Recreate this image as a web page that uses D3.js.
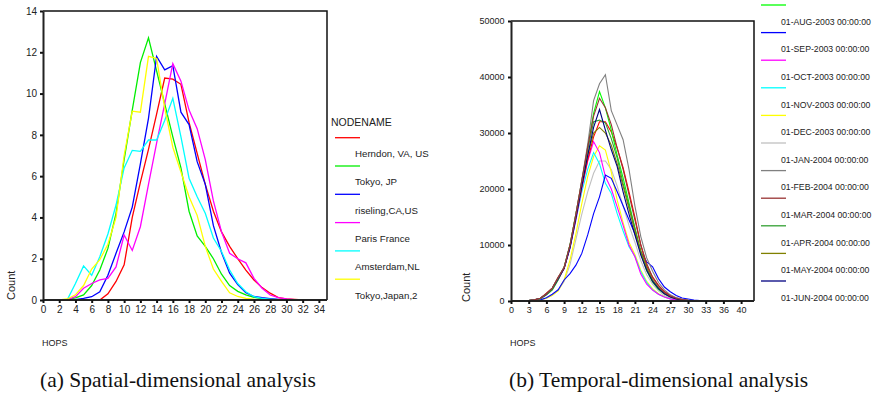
<!DOCTYPE html>
<html><head><meta charset="utf-8">
<script src="https://cdn.jsdelivr.net/npm/d3@7"></script>
<style>
html,body{margin:0;padding:0;background:#fff;}
svg{display:block;}
</style></head>
<body>
<svg id="c" width="876" height="395"></svg>
<script>
// ---------- Panel (a): spatial ----------
const leftHops = [0,1,2,3,4,5,6,7,8,9,10,11,12,13,14,15,16,17,18,19,20,21,22,23,24,25,26,27,28,29,30,31,32,33,34];
const leftTicksX = [0,2,4,6,8,10,12,14,16,18,20,22,24,26,28,30,32,34];
const leftTicksY = [0,2,4,6,8,10,12,14];
const leftNames = ["Herndon, VA, US","Tokyo, JP","riseling,CA,US","Paris France","Amsterdam,NL","Tokyo,Japan,2"];
const leftColors = ["#ff0000","#00ee00","#0000ff","#ff00ff","#00ffff","#ffff00"];
const herndon = [0,0,0,0,0,0,0,0,0.3,0.9,1.7,4.0,5.7,7.3,9.0,10.75,10.7,10.45,8.6,7.1,5.6,4.3,3.3,2.6,2.0,1.45,0.97,0.6,0.33,0.12,0.05,0.03,0.01,0,0];
const tokyoJP = [0,0,0,0.02,0.1,0.25,0.7,1.45,2.5,4.2,6.8,9.2,11.5,12.7,11.1,9.5,7.9,6.4,4.3,3.1,2.6,2.0,1.25,0.7,0.42,0.25,0.13,0.07,0.04,0.02,0,0,0,0,0];
const riseling = [0,0,0,0,0.02,0.08,0.16,0.4,1.2,2.26,3.3,4.5,6.6,8.8,11.8,11.15,11.35,9.1,8.5,6.7,5.6,3.6,2.3,1.3,0.75,0.35,0.17,0.11,0.06,0.03,0.01,0,0,0,0];
const paris = [0,0,0,0.02,0.16,0.57,0.8,0.97,1.05,1.6,3.15,2.4,3.55,5.6,7.6,9.5,11.45,10.6,9.2,8.3,6.8,4.8,3.3,2.26,2.0,1.8,1.05,0.57,0.24,0.11,0.05,0.02,0,0,0];
const amsterdam = [0,0,0,0.02,0.8,1.65,1.2,2.1,3.2,4.6,6.4,7.25,7.2,7.75,7.75,8.7,9.77,7.9,5.9,5.0,4.2,3.0,2.35,1.45,0.8,0.4,0.16,0.08,0.04,0.02,0,0,0,0,0];
const tokyoJapan2 = [0,0,0,0.05,0.25,0.7,1.5,1.95,2.7,4.0,7.0,9.15,9.1,11.8,11.7,9.3,7.4,6.2,5.0,4.1,2.6,1.5,0.9,0.35,0.17,0.08,0.04,0.02,0,0,0,0,0,0,0];
const leftSeries = [herndon, tokyoJP, riseling, paris, amsterdam, tokyoJapan2];

// ---------- Panel (b): temporal ----------
const rightHops = [0,1,2,3,4,5,6,7,8,9,10,11,12,13,14,15,16,17,18,19,20,21,22,23,24,25,26,27,28,29,30,31,32,33,34,35,36,37,38,40];
const rightTicksX = [0,3,6,9,12,15,18,21,24,27,30,33,36,40];
const rightTicksY = [0,10000,20000,30000,40000,50000];
const rightNames = ["01-JUL-2003 00:00:00","01-AUG-2003 00:00:00","01-SEP-2003 00:00:00","01-OCT-2003 00:00:00","01-NOV-2003 00:00:00","01-DEC-2003 00:00:00","01-JAN-2004 00:00:00","01-FEB-2004 00:00:00","01-MAR-2004 00:00:00","01-APR-2004 00:00:00","01-MAY-2004 00:00:00","01-JUN-2004 00:00:00"];
const rightColors = ["#ff0000","#00ff00","#0000ff","#ff00ff","#00ffff","#ffff00","#c0c0c0","#808080","#993333","#33a033","#808000","#000080"];
const jul03 = [0,0,50,100,200,500,1400,2300,4300,5800,9700,15000,20400,25200,29300,32000,32000,30200,27300,23800,19500,15000,10000,6300,4300,2800,1700,1000,550,280,130,60,20,0,0,0,0,0,0,0];
const aug03 = [0,0,30,80,150,400,1100,2000,3800,6000,10000,15500,21000,27500,33500,37400,34500,30500,26000,22000,17500,13000,8500,5400,3400,2100,1300,750,420,220,100,40,10,0,0,0,0,0,0,0];
const sep03 = [0,0,0,30,80,200,600,1200,2000,3750,4900,6400,8500,11800,15600,18600,22500,21900,19500,17000,14500,12000,8800,7000,6100,4000,2500,1650,1000,550,350,150,60,0,0,0,0,0,0,0];
const oct03 = [0,0,20,60,150,400,1100,2000,3800,5800,9500,14500,20000,25000,28450,26500,22200,20000,16800,13500,10000,7900,4800,3000,1950,1200,700,380,200,100,40,15,0,0,0,0,0,0,0,0];
const nov03 = [0,0,20,60,150,450,1200,2200,3900,5900,9500,14500,19500,23500,26500,24500,21000,19200,15600,12500,9700,8000,5200,3300,2000,1200,700,380,200,100,40,15,0,0,0,0,0,0,0,0];
const dec03 = [0,0,0,30,80,200,500,1000,1800,3750,7300,12000,17400,22200,25800,27700,26950,23000,18000,14000,10500,8300,5500,3500,2200,1300,750,400,200,100,40,15,0,0,0,0,0,0,0,0];
const jan04 = [0,0,0,30,80,200,500,1000,1900,3500,6500,11000,15500,19500,22800,25000,25000,23500,20500,17000,13500,10500,7200,4700,3000,1800,1000,550,280,130,60,20,0,0,0,0,0,0,0,0];
const feb04 = [0,0,30,80,200,500,1300,2300,4200,6000,10000,15500,21500,28000,35800,38800,40400,34000,31400,28800,23500,17000,11500,7700,5300,3300,2000,1100,600,300,150,60,20,0,0,0,0,0,0,0];
const mar04 = [0,0,30,80,200,500,1300,2300,4200,6000,10000,15500,21500,27500,33000,36200,34500,31500,27300,23500,19000,14500,10000,6700,4200,2700,1600,900,480,240,110,50,20,0,0,0,0,0,0,0];
const apr04 = [0,0,30,80,200,500,1300,2300,4200,6000,10000,15500,21500,27000,32000,32300,31800,29000,25500,21000,17000,13000,9000,6000,3800,2400,1400,800,430,210,100,40,15,0,0,0,0,0,0,0];
const may04 = [0,0,30,80,200,500,1200,2200,4000,5900,9800,15000,20500,26000,30000,31000,30000,27800,24500,20500,16500,12500,8700,5800,3700,2300,1350,750,400,200,90,35,10,0,0,0,0,0,0,0];
const jun04 = [0,0,30,80,200,500,1200,2200,4000,5800,9500,14800,20500,26000,31000,34200,30500,27000,24000,19500,15500,11800,8200,5500,3500,2200,1300,700,380,190,80,30,10,0,0,0,0,0,0,0];
const rightSeries = [jul03, aug03, sep03, oct03, nov03, dec03, jan04, feb04, mar04, apr04, may04, jun04];
const rightDrawOrder = [6,5,4,3,2,0,1,9,10,11,7,8];

const svg = d3.select("#c");
const tickFont = "'Liberation Sans', Arial, sans-serif";

function styleAxis(g, fs){
  g.select(".domain").attr("stroke","#222").attr("stroke-width",2);
  g.selectAll(".tick line").attr("stroke","#111").attr("stroke-width",2);
  g.selectAll(".tick text").attr("fill","#222").style("font-family",tickFont).style("font-size",fs+"px");
}

// ===== Panel a =====
const xA = d3.scaleLinear().domain([0,35]).range([43,327]);
const yA = d3.scaleLinear().domain([0,14]).range([300,11]);
const gA = svg.append("g");
gA.append("path").attr("d",`M${xA(0)},${yA(14)}H${xA(35)}V${yA(0)}`).attr("fill","none").attr("stroke","#111").attr("stroke-width",1.5);
const lineA = d3.line().x((d,i)=>xA(leftHops[i])).y(d=>yA(d));
leftSeries.forEach((s,i)=>{
  gA.append("path").datum(s).attr("d",lineA).attr("fill","none").attr("stroke",leftColors[i]).attr("stroke-width",1.3);
});
const axYA = gA.append("g").attr("transform",`translate(${xA(0)},0)`).call(d3.axisLeft(yA).tickValues(leftTicksY).tickSize(3).tickSizeOuter(0).tickPadding(3));
styleAxis(axYA,10);
const axXA = gA.append("g").attr("transform",`translate(0,${yA(0)})`).call(d3.axisBottom(xA).tickValues(leftTicksX).tickSize(3).tickSizeOuter(0).tickPadding(3));
axXA.select(".domain").attr("d",`M${xA(0)},0H${xA(35)}`);
styleAxis(axXA,10);
gA.append("text").attr("transform","translate(15,300) rotate(-90)").attr("text-anchor","start")
  .style("font-family",tickFont).style("font-size","11px").attr("fill","#222").text("Count");
gA.append("text").attr("x",42).attr("y",346).style("font-family",tickFont).style("font-size","9px").attr("fill","#222").text("HOPS");
const legA = gA.append("g");
legA.append("text").attr("x",331).attr("y",126).style("font-family",tickFont).style("font-size","10.5px").attr("fill","#222").text("NODENAME");
leftNames.forEach((n,i)=>{
  const ly = 137.7 + i*28.3;
  legA.append("line").attr("x1",335).attr("x2",360).attr("y1",ly).attr("y2",ly).attr("stroke",leftColors[i]).attr("stroke-width",1.3);
  legA.append("text").attr("x",355).attr("y",ly+16).attr("dy","0.35em").style("font-family",tickFont).style("font-size","9.7px").attr("fill","#222").text(n);
});

// ===== Panel b =====
const xB = d3.scalePoint().domain(rightHops).range([511, 511 + 39*5.9]);
const yB = d3.scaleLinear().domain([0,50000]).range([301,21]);
const xRight = 754;
const gB = svg.append("g");
gB.append("path").attr("d",`M${xB(0)},${yB(50000)}H${xRight}V${yB(0)}`).attr("fill","none").attr("stroke","#111").attr("stroke-width",1.5);
const lineB = d3.line().x((d,i)=>xB(rightHops[i])).y(d=>yB(d));
rightDrawOrder.forEach(k=>{
  gB.append("path").datum(rightSeries[k]).attr("d",lineB).attr("fill","none").attr("stroke",rightColors[k]).attr("stroke-width",1.1);
});
const axYB = gB.append("g").attr("transform",`translate(${xB(0)},0)`).call(d3.axisLeft(yB).tickValues(rightTicksY).tickFormat(d3.format("d")).tickSize(3).tickSizeOuter(0).tickPadding(3.5));
styleAxis(axYB,9);
const axXB = gB.append("g").attr("transform",`translate(0,${yB(0)})`).call(d3.axisBottom(xB).tickValues(rightTicksX).tickSize(3).tickSizeOuter(0).tickPadding(3));
axXB.select(".domain").attr("d",`M${xB(0)},0H${xRight}`);
styleAxis(axXB,9);
gB.append("text").attr("transform","translate(470,302) rotate(-90)").attr("text-anchor","start")
  .style("font-family",tickFont).style("font-size","11px").attr("fill","#222").text("Count");
gB.append("text").attr("x",510).attr("y",346).style("font-family",tickFont).style("font-size","9px").attr("fill","#222").text("HOPS");
// legend b: the first entry (JUL-2003) lies above the visible area in the reference, so start from the second
const legB = gB.append("g");
rightNames.forEach((n,i)=>{
  if (i === 0) return;
  const ly = 5 + (i-1)*27.6;
  legB.append("line").attr("x1",761).attr("x2",786).attr("y1",ly).attr("y2",ly).attr("stroke",rightColors[i]).attr("stroke-width",1.3);
  legB.append("text").attr("x",781).attr("y",ly+16.8).attr("dy","0.35em").style("font-family",tickFont).style("font-size","8.7px").attr("fill","#222").text(n);
});

const capFont = "'Liberation Serif','Times New Roman',serif";
svg.append("text").attr("x",40).attr("y",387).style("font-family",capFont).style("font-size","21.5px").attr("fill","#111").text("(a) Spatial-dimensional analysis");
svg.append("text").attr("x",509).attr("y",387).style("font-family",capFont).style("font-size","21.5px").attr("fill","#111").text("(b) Temporal-dimensional analysis");
</script>
</body></html>
